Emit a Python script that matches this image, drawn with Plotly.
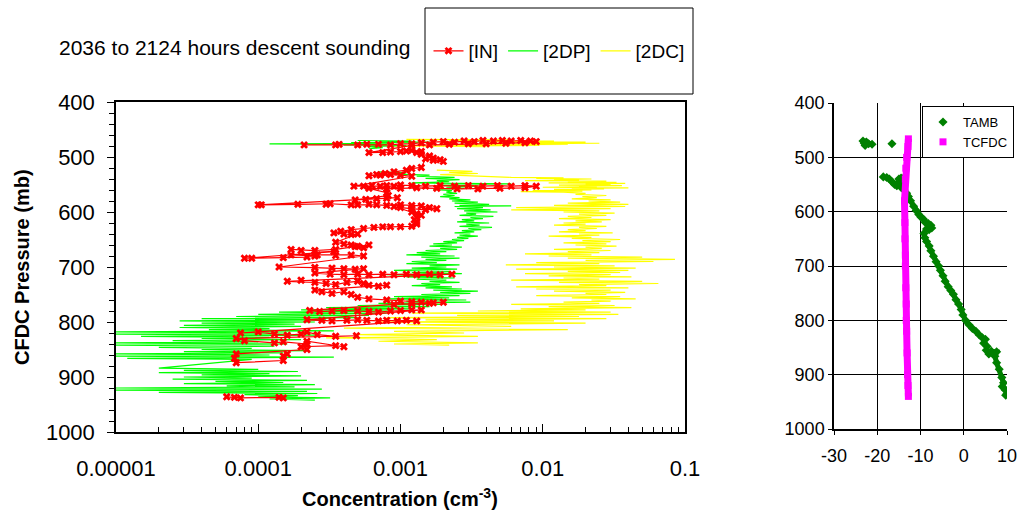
import plotly.graph_objects as go

# ---- left panel: [2DC] (yellow) ----
p_2dc = [468, 469, 470, 471, 472, 473, 474, 475, 476, 477, 478, 479, 480, 481, None,
         524, 526, 528, 530, 532, 534,
         537, 538, 539, 540, 541, 542, 543, 544, 545, 546, 547, 548, 549, 550, 551, 552,
         553, 554, 555, 556, 557, 558, 559, 560, 561, 562, 563, 564,
         566, 568, 570, 572, 574, 576, 578, 580, 582, 584, 586, 588, 590, 592, 594, 596, 598, 600, 602,
         604, 606, 608, 610, 612, 614, 616, 618, 620, 622, 624, 626, 628, 630, 632, 634, 636, 638,
         640, 642, 644, 646, 648, 650, 652, 654, 656, 658, 660, 662, 664, 666, 668, 670, 672, 674,
         676, 678, 680, 682, 684, 686, 688, 690, 692,
         694, 696, 698, 700, 702, 704, 706, 708, 710, 712, 714, 716, 718, 720, 722, 724, 726, 728,
         730, 732, 734, 736, 738, 740, 742,
         744, 746, 748, 750, 752, 754, 756, 758, 760, 762, 764, 766, 768, 770, 772, 774, 776, 778,
         780, 782, 784, 786, 788, 790, 792, 794, 796, 798, 800, 802,
         805, 808, 811, 814, 817, 820, 823, 826, 829, 832, 835, 838, 840, 842]
c_2dc = [0.0011, 0.006, 0.0022, 0.012, 0.004, 0.02, 0.008, 0.025, 0.006, 0.015, 0.0025, 0.0095, 0.0009, 0.004, None,
         0.0018, 0.0032, 0.0022, 0.0035, 0.0019, 0.003,
         0.006, 0.014, 0.009, 0.022, 0.012, 0.018, 0.0075, 0.028, 0.015, 0.033, 0.011, 0.038, 0.02, 0.03, 0.013, 0.036,
         0.018, 0.024, 0.01, 0.04, 0.016, 0.027, 0.012, 0.022, 0.0085, 0.019, 0.007, 0.014,
         0.02, 0.017, 0.028, 0.019, 0.024, 0.016, 0.03, 0.021, 0.035, 0.015, 0.04, 0.012, 0.038, 0.0065, 0.03, 0.006, 0.025, 0.014, 0.032,
         0.018, 0.028, 0.015, 0.022, 0.013, 0.03, 0.017, 0.026, 0.014, 0.02, 0.012, 0.028, 0.018, 0.024, 0.015, 0.02, 0.013, 0.031,
         0.018, 0.025, 0.011, 0.022, 0.016, 0.035, 0.019, 0.03, 0.014, 0.028, 0.017, 0.033, 0.02, 0.026, 0.012, 0.03, 0.015, 0.025,
         0.0075, 0.022, 0.011, 0.05, 0.015, 0.085, 0.02, 0.06, 0.009,
         0.025, 0.0055, 0.032, 0.012, 0.045, 0.0065, 0.04, 0.015, 0.035, 0.0075, 0.03, 0.011, 0.042, 0.014, 0.025, 0.006, 0.05, 0.013,
         0.065, 0.018, 0.028, 0.0065, 0.04, 0.009, 0.03,
         0.012, 0.038, 0.02, 0.028, 0.009, 0.035, 0.016, 0.045, 0.022, 0.03, 0.014, 0.025, 0.006, 0.032, 0.011, 0.042, 0.007, 0.02,
         0.0035, 0.03, 0.0012, 0.034, 0.0025, 0.018, 0.0008, 0.028, 0.0015, 0.012, 0.0007, 0.02,
         0.0011, 0.006, 0.0004, 0.015, 0.0009, 0.0028, 0.0005, 0.0035, 0.0003, 0.0018, 0.0007, 0.0035, 0.0009, 0.0022]

# ---- left panel: [2DP] (green) ----
p_2dp = [470, 471, 472, 473, 474, 475, 476, 477, 478, 479, 481, 483, 485, None,
         527, 529, 531, 533, 535, 537, 539, 541, 543, 545, 547, 549, 551, 553, 555, 557, 559, 561,
         564, 566, 568, 570, 572, 574, 576, 578, 580, 582, 584, 586, 588, 589, 590, 592, 594, 596, 598, 600,
         602, 604, 606, 608, 610, 612, 614, 616, 618, 620, 622, 624, 626, 628, 630, 632, 634, 636, 638, 640,
         642, 644, 646, 648, 650, 652, 654, 656, 658, 660, 662, 664, 666, 668, 670, 672, 674, 676, 678, 680,
         682, 684, 686, 688, 690, 692, 694, 696, 698, 700, 702, 704, 706, 708, 710, 712, 714, 716, 718, 720,
         722, 724, 726, 728, 730, 732, 734, 736, 738, 740, 742, 744, 746, 748, 750, 752, 754, 756, 758, 760,
         762, 764, 766, 768, 770, 772, 774, 776, 778, 780, 782, 784, 786, 788, 790, 792, 794, 796, 798, 800,
         802, 804, 806, 808, 810, 812, 814, 816, 818, 820, 822, 824, 826, 828, 830, 832, 834, 836, 838, 840,
         842, 844, 846, 848, 850, 852, 854, 856, 858, 860, 862, 864, 866, 868,
         884, 886, 888, 890, 892, 894, 896, 898, 900, 902, 904, 906, 908, 910, 912, 914, 916, 918, 920,
         922, 924, 926, 928, 930, 932, 934, 936, 938, 940, 942]
c_2dp = [0.0005, 0.0012, 0.0007, 0.0016, 0.00045, 0.0009, 0.00012, 0.0008, 0.0004, 0.0011, 0.0006, 0.00075, 0.0006, None,
         0.0007, 0.0011, 0.0009, 0.0016, 0.0013, 0.0024, 0.0015, 0.0026, 0.0018, 0.0022, 0.0012, 0.006, 0.0019, 0.0035, 0.0021, 0.0028, 0.0017, 0.0023,
         0.0021, 0.0025, 0.002, 0.0024, 0.0019, 0.0026, 0.0022, 0.0031, 0.0023, 0.0035, 0.0024, 0.0042, 0.0026, 0.006, 0.0024, 0.0038, 0.0025, 0.0043, 0.0028, 0.0048,
         0.0029, 0.0034, 0.0026, 0.0045, 0.0031, 0.0038, 0.0027, 0.0033, 0.0025, 0.0042, 0.0029, 0.0036, 0.0026, 0.0044, 0.003, 0.0037, 0.0027, 0.0033, 0.0024, 0.0031,
         0.0026, 0.0035, 0.0025, 0.003, 0.0023, 0.0028, 0.002, 0.0025, 0.0017, 0.0023, 0.0016, 0.0027, 0.0019, 0.0025, 0.0015, 0.0021, 0.0013, 0.0019, 0.0011, 0.0024,
         0.0014, 0.0026, 0.0015, 0.0021, 0.0012, 0.0018, 0.0011, 0.0026, 0.0016, 0.0021, 0.0012, 0.0025, 0.0009, 0.0022, 0.0012, 0.0027, 0.0008, 0.0019, 0.0011, 0.0024,
         0.0013, 0.0021, 0.0016, 0.0026, 0.0014, 0.0019, 0.0012, 0.0023, 0.0015, 0.0027, 0.0017, 0.0035, 0.0019, 0.0031, 0.0014, 0.0026, 0.0009, 0.0022, 0.0008, 0.0029,
         0.0011, 0.0031, 0.0007, 0.0019, 0.0005, 0.0016, 0.0003, 0.0012, 0.0002, 0.0009, 0.00014, 0.0008, 0.0001, 0.0006, 0.00007, 0.0005, 0.00004, 0.0003, 0.000028, 0.00025,
         0.00004, 0.00018, 0.00003, 0.0002, 0.000028, 0.00012, 0.000045, 0.00034, 0.00001, 0.00016, 0.00001, 0.00025, 0.000015, 0.00012, 0.00004, 0.0002, 0.000025, 0.0001, 0.00001, 0.00016,
         0.00001, 0.00013, 0.00002, 0.00009, 0.00004, 0.00022, 0.00003, 0.00015, 0.00001, 0.00012, 0.00001, 0.00034, 0.000012, 0.00009,
         0.00002, 0.0001, 0.00003, 0.00019, 0.00002, 0.00012, 0.00004, 0.0002, 0.00003, 0.00009, 0.000025, 0.00022, 0.00005, 0.00015, 0.00003, 0.00025, 0.00006, 0.00018, 0.00001,
         0.00028, 0.00001, 0.00022, 0.00002, 0.00026, 0.00008, 0.00019, 0.0001, 0.00032, 0.00012, 0.00025]

# ---- left panel: [IN] (red) ----
p_in = [478, 478, 477, 478, 477, 477, 478, 476, 476, 474, 473, 472, 473, 471, 472, 470, 471, 470, 471, 470, 471, 472,
        474, 475, 476, 476, 477, 478, 479,
        492, 492, 491, 490, 489, 488, 490, 492, 495, 498, 502, 505, 508, 506, 503,
        519, 521, 524, 527, 530, 532, 534, 533, 532, 533, 535,
        553, 553, 552, 553, 552, 553, 551, 552, 553, 552, 553, 552, 553, 552, 553, 552, 553,
        556, 557, 558, 558, 557, 556, 557, 558, 557,
        565, 570, 578, 577, 576, 575, 574,
        587, 587, 586, 586, 585, 587, 587, 586, 587, 588, 587, 588, 589, 592, 594, 596, 594, 592, 590,
        600, 603, 606, 610, 614, 618, 622, 626,
        627, 627, 627, 628, 630, 632, 635, 638, 640, 641, 640,
        655, 658, 660, 662, 665, 660, 663, 668, 670, 668, 670, 672,
        684, 684, 683, 682, 680, 678, 678, 679, 678, 680,
        700, 701, 702, 703, 704, 703,
        711, 713, 714, 713, 714, 713, 714, 713, 714, 713, 714, 713,
        724, 726, 728, 730, 732, 728, 726, 730, 733, 735, 733,
        742, 745, 748, 745, 750, 755, 758, 760, 762, 763, 764, 765, 764, 766, 767, 768,
        779, 781, 780, 779, 780, 781, 782, 780, 779, 778, 778,
        796, 797, 798, 797, 796, 797, 798, 797, 798, 797, 798,
        820, 818, 822, 824, 822, 818, 823, 826, 825,
        830, 834, 838, 836, 840, 845, 843, 845, 835, 850,
        858, 866, 874, 870, 862, 858, None,
        936, 937, 938, 937, 938]
c_in = [0.00021, 0.00035, 0.00037, 0.0005, 0.00058, 0.0007, 0.00085, 0.001, 0.0012, 0.0014, 0.0017, 0.002, 0.0024, 0.0028, 0.0033, 0.0038, 0.0045, 0.0052, 0.006, 0.007, 0.0082, 0.009,
        0.0075, 0.0055, 0.004, 0.003, 0.0022, 0.0016, 0.0012,
        0.0006, 0.00075, 0.00085, 0.001, 0.0011, 0.0012, 0.0014, 0.0013, 0.0014, 0.0016, 0.0017, 0.0019, 0.002, 0.0017, 0.0015,
        0.0014, 0.0012, 0.0011, 0.0009, 0.00078, 0.00068, 0.0006, 0.00072, 0.00085, 0.001, 0.0012,
        0.00047, 0.00055, 0.00063, 0.00072, 0.0008, 0.0009, 0.001, 0.0012, 0.0015, 0.0019, 0.0024, 0.003, 0.0038, 0.0048, 0.006, 0.0075, 0.009,
        0.0075, 0.005, 0.0035, 0.0025, 0.0018, 0.0013, 0.001, 0.0008, 0.0006,
        0.0008, 0.00082, 0.00048, 0.00057, 0.00068, 0.0008, 0.00095,
        0.0001, 0.000105, 0.00019, 0.0003, 0.00032, 0.00045, 0.0005, 0.0006, 0.00068, 0.0008, 0.001, 0.0012, 0.0014, 0.0016, 0.0018, 0.0015, 0.0012, 0.001, 0.0009,
        0.0012, 0.0013, 0.0014, 0.0013, 0.00125, 0.0013, 0.0013, 0.0012,
        0.001, 0.00085, 0.00075, 0.00065, 0.00055, 0.00045, 0.00038, 0.00034, 0.0004, 0.00045, 0.0005,
        0.00035, 0.0004, 0.00045, 0.0005, 0.00055, 0.0006, 0.00048, 0.00035, 0.00025, 0.00017, 0.0002, 0.00034,
        0.00008, 0.00009, 0.00015, 0.00022, 0.00025, 0.00017, 0.00026, 0.00035, 0.00045, 0.00055,
        0.00014, 0.00025, 0.00033, 0.0004, 0.00048, 0.00055,
        0.00025, 0.00032, 0.0004, 0.0005, 0.0006, 0.00075, 0.0009, 0.0011, 0.0013, 0.0016, 0.0019, 0.0023,
        0.0002, 0.00016, 0.00025, 0.0003, 0.00035, 0.00042, 0.0005, 0.00055, 0.0006, 0.0007, 0.0008,
        0.00025, 0.00028, 0.00033, 0.0004, 0.00045, 0.0005, 0.0006, 0.0008, 0.001, 0.0012, 0.0014, 0.0017, 0.002, 0.0016, 0.0012, 0.0009,
        0.00023, 0.00027, 0.00033, 0.0004, 0.0005, 0.0006, 0.0007, 0.00085, 0.001, 0.0012, 0.0014,
        0.00022, 0.00028, 0.00033, 0.00042, 0.0005, 0.00058, 0.0007, 0.0008, 0.00095, 0.0011, 0.0013,
        0.000075, 0.0001, 0.00013, 0.00016, 0.0002, 0.00022, 0.00026, 0.00035, 0.00049,
        0.00007, 0.00008, 0.00013, 0.00015, 0.00022, 0.0002, 0.00035, 0.0004, 0.00022, 0.00022,
        0.00007, 0.000068, 0.00007, 0.00015, 0.00015, 0.00016, None,
        0.00006, 0.000068, 0.000075, 0.00014, 0.00015]

# ---- right panel: temperatures ----
t_amb = [-23.3, -23.0, -22.8, -22.5, -22.0, -21.2, None, -16.6, None,
         -18.6, -17.8, -17.2, -16.6, -16.0, -15.5, -15.0, -14.5, -14.2, -14.4, -13.8, -13.2, -12.8, -12.3,
         -11.6, -11.0, -10.4, -9.9, -9.3, -8.9, -8.2, -7.6, -7.4, -8.0, -8.6, -9.2, -9.0, -8.6, -8.0, -7.6,
         -7.0, -6.4, -5.8, -5.4, -4.8, -4.3, -3.6, -3.0, -2.4, -1.8, -1.2, -0.6, -0.2, 0.4, 1.2, 2.0, 2.8,
         3.6, 4.3, 5.0, 4.6, 5.4, 5.2, 5.8, 6.4, 7.6, 7.2, 7.6, 8.2, 8.8, 9.2, 8.9, 9.6, 10.0, 9.7]
p_amb = [470, 474, 478, 472, 475, 476, None, 475, None,
         536, 537, 540, 545, 550, 552, 540, 538, 548, 556, 560, 566, 572, 580,
         590, 598, 605, 610, 614, 620, 622, 625, 630, 633, 632, 640, 648, 655, 663, 672,
         682, 692, 700, 708, 718, 728, 738, 745, 752, 762, 770, 780, 790, 800, 808, 815, 820,
         827, 832, 835, 842, 848, 855, 862, 857, 858, 866, 878, 890, 905, 915, 922, 928, 935, 938]
t_cfdc = [-12.8, -12.9, -13.2, -13.4, -13.5, -13.7, -13.6, -13.6, -13.5, -13.5, -13.4, -13.3, -13.3, -13.2, -13.1, -13.0, -12.9, -12.8]
p_cfdc = [466, 480, 500, 520, 540, 580, 620, 650, 680, 700, 740, 770, 800, 820, 860, 900, 920, 940]

conc_ticks = [0.00001, 0.0001, 0.001, 0.01, 0.1]
conc_labels = ["0.00001", "0.0001", "0.001", "0.01", "0.1"]
temp_ticks = [-30, -20, -10, 0, 10]
temp_labels = ["-30", "-20", "-10", "0", "10"]

W, H = 1018, 515
def px(x): return x / W
def py(y): return 1 - y / H

fig = go.Figure()

fig.add_trace(go.Scatter(x=c_2dc, y=p_2dc, mode="lines", name="[2DC]",
                         line=dict(color="#FFFF00", width=1.2), connectgaps=False, legendrank=3))
fig.add_trace(go.Scatter(x=c_2dp, y=p_2dp, mode="lines", name="[2DP]",
                         line=dict(color="#00FF00", width=1.2), connectgaps=False, legendrank=2))
fig.add_trace(go.Scatter(x=c_in, y=p_in, mode="lines+markers", name="[IN]",
                         line=dict(color="#FF0000", width=1.2), connectgaps=False,
                         marker=dict(symbol="x", size=7, color="#FF0000"), legendrank=1))

# right panel
fig.add_trace(go.Scatter(x=t_amb, y=p_amb, mode="lines", xaxis="x2", yaxis="y2",
                         line=dict(color="#008000", width=5), showlegend=False))
fig.add_trace(go.Scatter(x=t_amb, y=p_amb, mode="markers", xaxis="x2", yaxis="y2", name="TAMB",
                         marker=dict(symbol="diamond", size=7, color="#008000"), legend="legend2"))
fig.add_trace(go.Scatter(x=t_cfdc, y=p_cfdc, mode="lines", xaxis="x2", yaxis="y2",
                         line=dict(color="#FF00FF", width=7), showlegend=False))
fig.add_trace(go.Scatter(x=t_cfdc, y=p_cfdc, mode="markers", xaxis="x2", yaxis="y2", name="TCFDC",
                         marker=dict(symbol="square", size=7, color="#FF00FF"), legend="legend2"))

minor_vals = [m * 10 ** e for e in range(-5, -1) for m in range(2, 10)]

fig.update_layout(
    width=W, height=H,
    margin=dict(l=0, r=0, t=0, b=0, autoexpand=False),
    paper_bgcolor="white", plot_bgcolor="white",
    font=dict(family="Liberation Sans, Arial, sans-serif", color="black"),
    xaxis=dict(domain=[px(116), px(685)], type="log", range=[-5, -1],
               tickmode="array", tickvals=conc_ticks, ticktext=conc_labels,
               ticks="inside", ticklen=8, tickwidth=1, tickcolor="black",
               minor=dict(tickmode="array", tickvals=minor_vals, ticks="inside", ticklen=5,
                          tickcolor="black", showgrid=False),
               showline=True, linecolor="black", linewidth=1.5, mirror=True,
               showgrid=False, zeroline=False, tickfont=dict(size=22),
               ticklabelstandoff=16, anchor="y", automargin=False),
    yaxis=dict(domain=[py(432), py(102)], range=[1000, 400], autorange=False,
               tick0=400, dtick=100, ticks="outside", ticklen=7, tickcolor="black",
               minor=dict(dtick=20, ticks="outside", ticklen=5, tickcolor="black", showgrid=False),
               showline=True, linecolor="black", linewidth=1.5, mirror=True,
               showgrid=False, zeroline=False, tickfont=dict(size=22), anchor="x",
               ticklabelstandoff=8, automargin=False),
    xaxis2=dict(domain=[px(834), px(1007)], range=[-30, 10],
                tickmode="array", tickvals=temp_ticks, ticktext=temp_labels,
                ticks="outside", ticklen=4, tickcolor="black",
                showline=True, linecolor="black", linewidth=1.5,
                showgrid=True, gridcolor="black", gridwidth=0.8, zeroline=False,
                tickfont=dict(size=18), anchor="y2", ticklabelstandoff=6, automargin=False),
    yaxis2=dict(domain=[py(429), py(103)], range=[1000, 400], autorange=False,
                tick0=400, dtick=100, ticks="outside", ticklen=4, tickcolor="black",
                showline=True, linecolor="black", linewidth=1.5,
                showgrid=True, gridcolor="black", gridwidth=0.8, zeroline=False,
                tickfont=dict(size=18), anchor="x2", automargin=False),
    legend=dict(orientation="h", x=px(559), y=py(51), xanchor="center", yanchor="middle",
                font=dict(size=19), bgcolor="rgba(0,0,0,0)", itemwidth=30,
                traceorder="normal"),
    legend2=dict(x=px(922), y=py(106), xanchor="left", yanchor="top",
                 font=dict(size=13), bgcolor="white", bordercolor="black", borderwidth=1,
                 itemwidth=30, tracegroupgap=2),
    shapes=[dict(type="rect", xref="paper", yref="paper",
                 x0=px(425), x1=px(693), y0=py(94), y1=py(8),
                 line=dict(color="black", width=1))],
    annotations=[
        dict(text="2036 to 2124 hours descent sounding", xref="paper", yref="paper",
             x=px(57), y=py(47), xanchor="left", yanchor="middle", showarrow=False,
             font=dict(size=21)),
        dict(text="<b>CFDC Pressure (mb)</b>", xref="paper", yref="paper",
             x=px(22), y=py(267), textangle=-90, xanchor="center", yanchor="middle",
             showarrow=False, font=dict(size=20)),
        dict(text="<b>Concentration (cm<sup>-3</sup>)</b>", xref="paper", yref="paper",
             x=px(400), y=py(497), xanchor="center", yanchor="middle",
             showarrow=False, font=dict(size=20)),
    ],
)

# drop the browser's default 8px body margin so the figure sits at the page corner
fig.write_html("out.html", config={"displayModeBar": False},
               post_script="document.body.style.margin='0px';")
